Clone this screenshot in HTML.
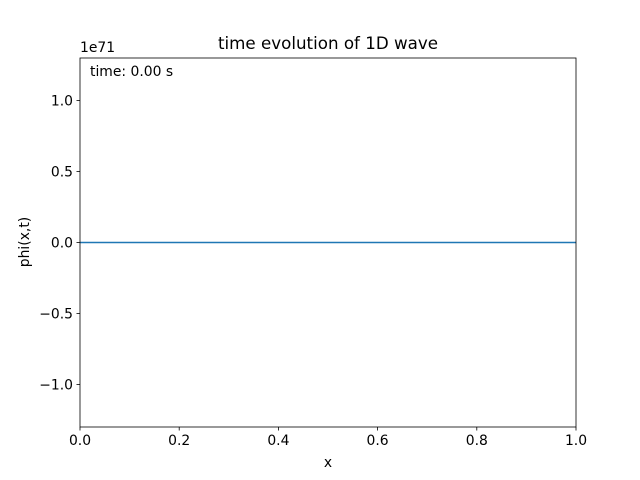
<!DOCTYPE html>
<html><head><meta charset="utf-8"><style>
body{margin:0;background:#fff}
svg{display:block;font-family:"DejaVu Sans","Liberation Sans",sans-serif}
</style></head><body>
<svg id="chart" width="640" height="480" viewBox="0 0 640 480">
<rect width="640" height="480" fill="#fff"/>
<text x="328" y="49" font-size="16.7" text-anchor="middle">time evolution of 1D wave</text>
<text x="80" y="52" font-size="13.9">1e71</text>
<g id="ticks"></g>
<g id="series"></g>
<rect x="80" y="58" width="496" height="369" fill="none" stroke="#000" stroke-width="0.8"/>
<text x="90" y="76" font-size="13.9">time: 0.00 s</text>
<text x="328" y="467" font-size="13.9" text-anchor="middle">x</text>
<text x="29" y="242" font-size="13.9" text-anchor="middle" transform="rotate(-90 29 242)">phi(x,t)</text>
</svg>
<script>
const xTicks=[0,0.2,0.4,0.6,0.8,1.0];
const xTickLabels=["0.0","0.2","0.4","0.6","0.8","1.0"];
const yTicks=[1.0,0.5,0,-0.5,-1.0];
const yTickLabels=["1.0","0.5","0.0","\u22120.5","\u22121.0"];
const xValues=[0,0.1,0.2,0.3,0.4,0.5,0.6,0.7,0.8,0.9,1.0];
const phiValues=[0,0,0,0,0,0,0,0,0,0,0];
const NS="http://www.w3.org/2000/svg";
const X0=80,X1=576,Y0=427,Y1=58,xmin=0,xmax=1,ymin=-1.3,ymax=1.3;
const sx=v=>X0+(v-xmin)/(xmax-xmin)*(X1-X0);
const sy=v=>Y0-(v-ymin)/(ymax-ymin)*(Y0-Y1);
const tg=document.getElementById('ticks');
function mk(t,a){const e=document.createElementNS(NS,t);for(const k in a)e.setAttribute(k,a[k]);return e;}
xTicks.forEach((v,i)=>{
  const l=mk('line',{x1:sx(v),x2:sx(v),y1:Y0,y2:Y0+3.5,stroke:'#000','stroke-width':0.8});
  
  
  tg.appendChild(l);
  const t=mk('text',{x:sx(v),y:Y0+18,'font-size':13.9,'text-anchor':'middle'});
  t.textContent=xTickLabels[i];
  
  
  tg.appendChild(t);
});
yTicks.forEach((v,i)=>{
  const l=mk('line',{x1:X0-3.5,x2:X0,y1:sy(v),y2:sy(v),stroke:'#000','stroke-width':0.8});
  
  
  tg.appendChild(l);
  const t=mk('text',{x:X0-7,y:sy(v)+5,'font-size':13.9,'text-anchor':'end'});
  t.textContent=yTickLabels[i];
  
  
  tg.appendChild(t);
});
const pts=xValues.map((x,i)=>sx(x)+','+sy(phiValues[i])).join(' ');
const pl=mk('polyline',{points:pts,fill:'none',stroke:'#1f77b4','stroke-width':1.5});


document.getElementById('series').appendChild(pl);
</script>
</body></html>
